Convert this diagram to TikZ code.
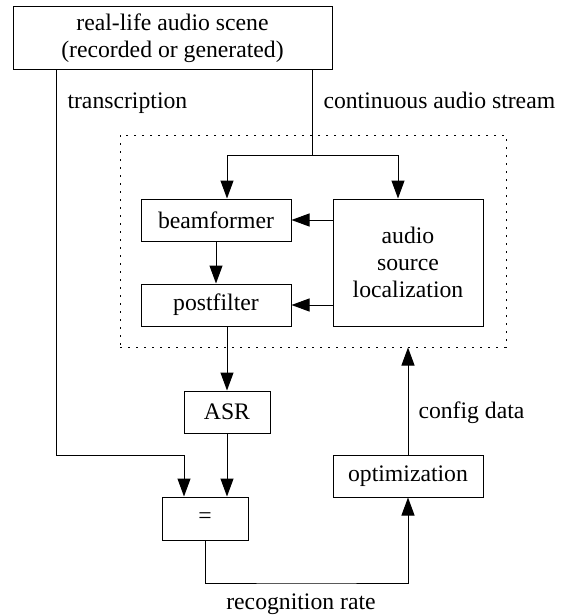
\documentclass[tikz,border=0pt]{standalone}
\usepackage{fontspec}
\setmainfont{Liberation Serif}
\usetikzlibrary{arrows.meta,calc}
\begin{document}
\begin{tikzpicture}[x=0.5pt,y=-0.5pt,
  font=\fontsize{11.85}{13.6}\selectfont,
  line width=0.5pt,
  box/.style={draw, rectangle, inner sep=0pt, align=center},
  arr/.style={-{Triangle[length=9pt,width=6.5pt]}},
  lbl/.style={anchor=base west, inner sep=0pt}]
\useasboundingbox (0,0) rectangle (571,615);

% processing blocks
\node[box, minimum width=159.5pt, minimum height=31.5pt] (scene) at (172.5,38.5)
  {real-life audio scene\\(recorded or generated)};
\node[draw, dash pattern=on 1pt off 3pt, minimum width=193pt, minimum height=106pt,
  inner sep=0pt] (frame) at (313,241) {};
\node[box, minimum width=75pt, minimum height=21pt] (beam) at (216,220) {beamformer};
\node[box, minimum width=75pt, minimum height=21pt] (post) at (216,305) {postfilter};
\node[box, minimum width=75pt, minimum height=63.5pt] (asl) at (408,262.5)
  {audio\\source\\localization};
\node[box, minimum width=43pt, minimum height=21pt] (asr) at (227,412) {ASR};
\node[box, minimum width=43pt, minimum height=21.5pt] (eq) at (205,518.5) {=};
\node[box, minimum width=75pt, minimum height=21pt] (opt) at (408,476) {optimization};

% routing points
\coordinate (tx) at (56,455);
\coordinate (split) at (312,155);
\coordinate (loop) at (306,583);

% transcription path
\draw[arr] (scene.south -| tx) -- (tx) -| ([xshift=-10.5pt]eq.north);
% audio stream
\draw (scene.south -| split) -- (split);
\draw[arr] (split) -| ([xshift=5.5pt]beam.north);
\draw[arr] (split) -| ([xshift=-5pt]asl.north);
\draw[arr] (beam.south) -- (post.north);
\draw[arr] (asl.west |- beam.east) -- (beam.east);
\draw[arr] (asl.west |- post.east) -- (post.east);
\draw[arr] ([xshift=5.5pt]post.south) -- (asr.north);
\draw[arr] (asr.south) -- (asr.south |- eq.north);
% feedback loop
\draw[arr] (eq.south) |- (loop) -| (opt.south);
\draw[arr] (opt.north) -- (opt.north |- frame.south);

% labels
\node[lbl] (ltrans) at (67,109) {transcription};
\node[lbl] (lstream) at (323,109) {continuous audio stream};
\node[lbl] (lconf) at (418,418) {config data};
\node[anchor=base, inner sep=0pt] (lrate) at (301,609) {recognition rate};
\end{tikzpicture}
\end{document}
